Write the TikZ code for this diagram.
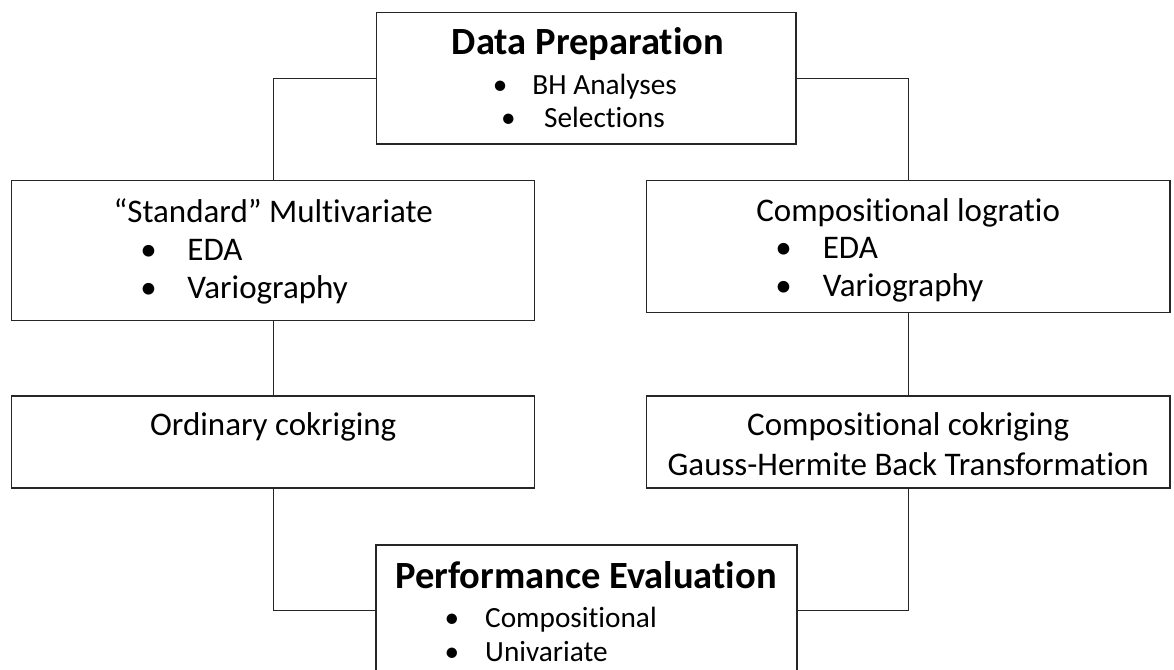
\documentclass[tikz,border=0pt]{standalone}
\usepackage{fontspec}
\setmainfont{Carlito}[Ligatures={NoCommon}, RawFeature={-liga}]
\begin{document}
\begin{tikzpicture}[x=1pt,y=-1pt,
  box/.style={draw=black!85, line width=1.3pt, inner sep=0pt, outer sep=0pt},
  link/.style={draw=black!85, line width=1.3pt},
  head/.style={anchor=base, inner sep=0pt, font=\fontsize{38.5}{40}\selectfont\bfseries},
  big/.style={anchor=base, inner sep=0pt, font=\fontsize{33}{35}\selectfont},
  bigitem/.style={anchor=base west, inner sep=0pt, font=\fontsize{33}{35}\selectfont},
  smallitem/.style={anchor=base west, inner sep=0pt, font=\fontsize{29.3}{31}\selectfont}]
\useasboundingbox (0,0) rectangle (1174,669);
\clip (0,0) rectangle (1174,669);
\fill[white] (0,0) rectangle (1174,669);
% boxes
\node[box, minimum width=419.3pt, minimum height=131.3pt] (dp) at (586.35,78.35) {};
\node[box, minimum width=523pt, minimum height=140pt] (sm) at (273.2,250.7) {};
\node[box, minimum width=523.3pt, minimum height=132pt] (cl) at (908.35,246.7) {};
\node[box, minimum width=523pt, minimum height=92pt] (oc) at (273.2,442) {};
\node[box, minimum width=523.3pt, minimum height=92pt] (cc) at (908.35,442) {};
\node[box, minimum width=421pt, minimum height=131pt] (pe) at (586.5,610.5) {};
% connectors
\draw[link] (dp.west) -| (sm.north);
\draw[link] (dp.east) -| (cl.north);
\draw[link] (sm.south) -- (oc.north);
\draw[link] (cl.south) -- (cc.north);
\draw[link] (oc.south) |- (pe.west);
\draw[link] (cc.south) |- (pe.east);
% texts: Data Preparation
\node[head] (dpt) at (588,55) {Data Preparation};
\node[smallitem] (dp1) at (500,94.3) {\makebox[0pt][c]{•}\hspace{32.3pt}BH Analyses};
\node[smallitem] (dp2) at (508.3,127.7) {\makebox[0pt][c]{•}\hspace{35.7pt}Selections};
% Standard multivariate
\node[big] (smt) at (273.2,222.5) {“Standard” Multivariate};
\node[bigitem] (sm1) at (148.3,260.5) {\makebox[0pt][c]{•}\hspace{39pt}EDA};
\node[bigitem] (sm2) at (148.3,298) {\makebox[0pt][c]{•}\hspace{39pt}Variography};
% Compositional logratio
\node[big] (clt) at (908.2,221) {Compositional logratio};
\node[bigitem] (cl1) at (783.3,258.5) {\makebox[0pt][c]{•}\hspace{39.4pt}EDA};
\node[bigitem] (cl2) at (783.3,296.5) {\makebox[0pt][c]{•}\hspace{39.4pt}Variography};
% Ordinary cokriging
\node[big] (oct) at (273.2,435) {Ordinary cokriging};
% Compositional cokriging
\node[big] (cct1) at (908.2,435) {Compositional cokriging};
\node[big] (cct2) at (908.2,475) {Gauss-Hermite Back Transformation};
% Performance evaluation
\node[head] (pet) at (586,588.3) {Performance Evaluation};
\node[smallitem] (pe1) at (451.7,627.7) {\makebox[0pt][c]{•}\hspace{33.3pt}Compositional};
\node[smallitem] (pe2) at (451.7,661) {\makebox[0pt][c]{•}\hspace{33.3pt}Univariate};
\end{tikzpicture}
\end{document}
